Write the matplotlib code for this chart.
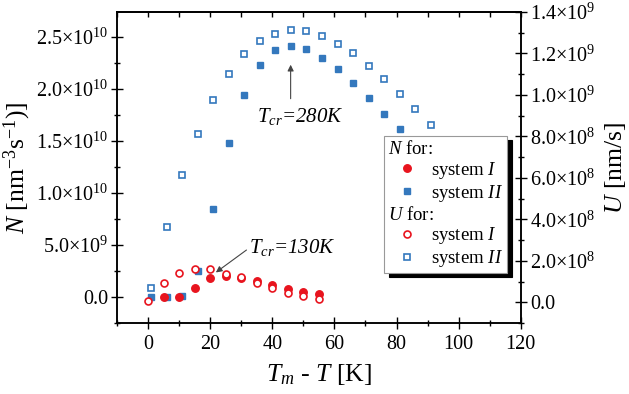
import matplotlib
matplotlib.use("Agg")
import matplotlib.pyplot as plt
from matplotlib.lines import Line2D
import numpy as np

plt.rcParams['font.family'] = ['Liberation Serif', 'DejaVu Serif']
plt.rcParams['mathtext.fontset'] = 'custom'
plt.rcParams['mathtext.rm'] = 'Liberation Serif'
plt.rcParams['mathtext.it'] = 'Liberation Serif:italic'

# data
x_sys1_N = [5, 10, 15, 20, 25, 30, 35, 40, 45, 50, 55]
N_sys1 = [0.0, 0.0, 0.089, 0.183, 0.205, 0.18, 0.157, 0.115, 0.074, 0.048, 0.029]  # x1e10
x_sys2_N = [1, 6, 11, 16, 21, 26, 31, 36, 41, 46, 51, 56, 61, 66, 71, 76, 81]
N_sys2 = [0.0, 0.0, 0.007, 0.25, 0.849, 1.481, 1.945, 2.234, 2.378, 2.416, 2.385,
          2.301, 2.192, 2.058, 1.913, 1.763, 1.612]  # x1e10
x_sys1_U = [0, 5, 10, 15, 20, 25, 30, 35, 40, 45, 50, 55]
U_sys1 = [0.006, 0.095, 0.143, 0.162, 0.159, 0.139, 0.120, 0.091, 0.067, 0.047, 0.029, 0.018]  # x1e9
x_sys2_U = [1, 6, 11, 16, 21, 26, 31, 36, 41, 46, 51, 56, 61, 66, 71, 76, 81, 86, 91]
U_sys2 = [0.071, 0.364, 0.612, 0.814, 0.976, 1.103, 1.196, 1.259, 1.295, 1.312, 1.307,
          1.286, 1.247, 1.201, 1.141, 1.077, 1.005, 0.932, 0.855]  # x1e9

N_ticks = [0, 5e9, 1e10, 1.5e10, 2e10, 2.5e10]
N_ticklabels = ['0.0', '5.0×10$^{9}$', '1.0×10$^{10}$', '1.5×10$^{10}$', '2.0×10$^{10}$', '2.5×10$^{10}$']
U_ticks = [0, 2e8, 4e8, 6e8, 8e8, 1e9, 1.2e9, 1.4e9]
U_ticklabels = ['0.0', '2.0×10$^{8}$', '4.0×10$^{8}$', '6.0×10$^{8}$', '8.0×10$^{8}$',
                '1.0×10$^{9}$', '1.2×10$^{9}$', '1.4×10$^{9}$']
x_ticks = [0, 20, 40, 60, 80, 100, 120]

red = '#e8141e'
blue = '#3478bd'

fig = plt.figure(figsize=(6.29, 3.94), dpi=100)
ax = fig.add_subplot(111)
fig.subplots_adjust(left=0.186, right=0.828, top=0.9695, bottom=0.18)
ax2 = ax.twinx()

ax.plot(x_sys2_N, np.array(N_sys2) * 1e10, 's', color=blue, ms=4.6, mec=blue, ls='none')
ax.plot(x_sys1_N, np.array(N_sys1) * 1e10, 'o', color=red, ms=5.4, ls='none')
ax2.plot(x_sys2_U, np.array(U_sys2) * 1e9, 's', mfc='white', mec=blue, mew=1.2, ms=4.4, ls='none')
ax2.plot(x_sys1_U, np.array(U_sys1) * 1e9, 'o', mfc='white', mec=red, mew=1.2, ms=5.0, ls='none')

ax.set_xlim(-10, 120)
ax.set_ylim(-0.25e10, 2.74e10)
ax2.set_ylim(-0.1e9, 1.4e9)

ax.set_xticks(x_ticks)
ax.set_xticks(np.arange(-10, 121, 10), minor=True)
ax.set_yticks(N_ticks)
ax.set_yticklabels(N_ticklabels)
ax.set_yticks(np.arange(-2.5e9, 2.74e10, 2.5e9), minor=True)
ax2.set_yticks(U_ticks)
ax2.set_yticklabels(U_ticklabels)
ax2.set_yticks(np.arange(-1e8, 1.41e9, 1e8), minor=True)

for a in (ax, ax2):
    a.tick_params(which='major', direction='inout', length=9, width=1.0, labelsize=14.5)
    a.tick_params(which='minor', direction='inout', length=5, width=1.0)
    for s in a.spines.values():
        s.set_linewidth(1.1)
ax.tick_params(axis='y', which='major', pad=2)
ax.tick_params(axis='x', which='major', pad=4)
ax2.tick_params(axis='y', which='major', pad=2)

top = ax.secondary_xaxis('top')
top.set_xticks(np.arange(-10, 121, 10))
top.tick_params(direction='in', length=3.5, width=1.0, labeltop=False)
top.spines['top'].set_linewidth(1.1)

ax.set_xlabel('$T_m$ - $T$ [K]', fontsize=18.5, labelpad=6)
ax.set_ylabel('$N$ [nm$^{-3}$s$^{-1}$)]', fontsize=18.5, labelpad=2)
ax2.set_ylabel('$U$ [nm/s]', fontsize=18.5, labelpad=6)

# annotations
ax.annotate('', xy=(45.9, 2.26e10), xytext=(45.9, 1.88e10),
            arrowprops=dict(arrowstyle='-|>', color='#444444', lw=0.8, mutation_scale=9))
ax.text(49, 1.686e10, '$T_{cr}$=280K', style='italic', fontsize=15,
        ha='center', va='baseline')
ax.annotate('', xy=(21.1, 0.221e10), xytext=(32.4, 0.468e10),
            arrowprops=dict(arrowstyle='-|>', color='#444444', lw=0.8, mutation_scale=9))
ax.text(32.6, 0.423e10, '$T_{cr}$=130K', style='italic', fontsize=15,
        ha='left', va='baseline')

# legend with two header rows
blank = Line2D([], [], ls='none', marker='')
hN1 = Line2D([], [], ls='none', marker='o', color=red, ms=5.4)
hN2 = Line2D([], [], ls='none', marker='s', color=blue, ms=4.6)
hU1 = Line2D([], [], ls='none', marker='o', mfc='white', mec=red, mew=1.2, ms=5.0)
hU2 = Line2D([], [], ls='none', marker='s', mfc='white', mec=blue, mew=1.2, ms=4.4)
handles = [blank, hN1, hN2, blank, hU1, hU2]
labels = ['$N$ for:', 'system $I$', 'system $II$', '$U$ for:', 'system $I$', 'system $II$']
leg_fs = 13.5
hl, htp = 2.0, 0.3
leg = ax2.legend(handles, labels, loc='upper right', bbox_to_anchor=(0.965, 0.601),
                 borderaxespad=0, fancybox=False, framealpha=1, edgecolor='#999999',
                 shadow={'ox': 3.5, 'oy': -3, 'color': 'black', 'alpha': 1},
                 handlelength=hl, handletextpad=htp, borderpad=0.2, labelspacing=0.1,
                 fontsize=leg_fs)
leg.get_frame().set_linewidth(0.8)
shift = (hl + htp) * leg_fs * fig.dpi / 72
for i in (0, 3):
    leg.get_texts()[i].set_position((-shift, 0))

fig.savefig('out.png', dpi=100)
